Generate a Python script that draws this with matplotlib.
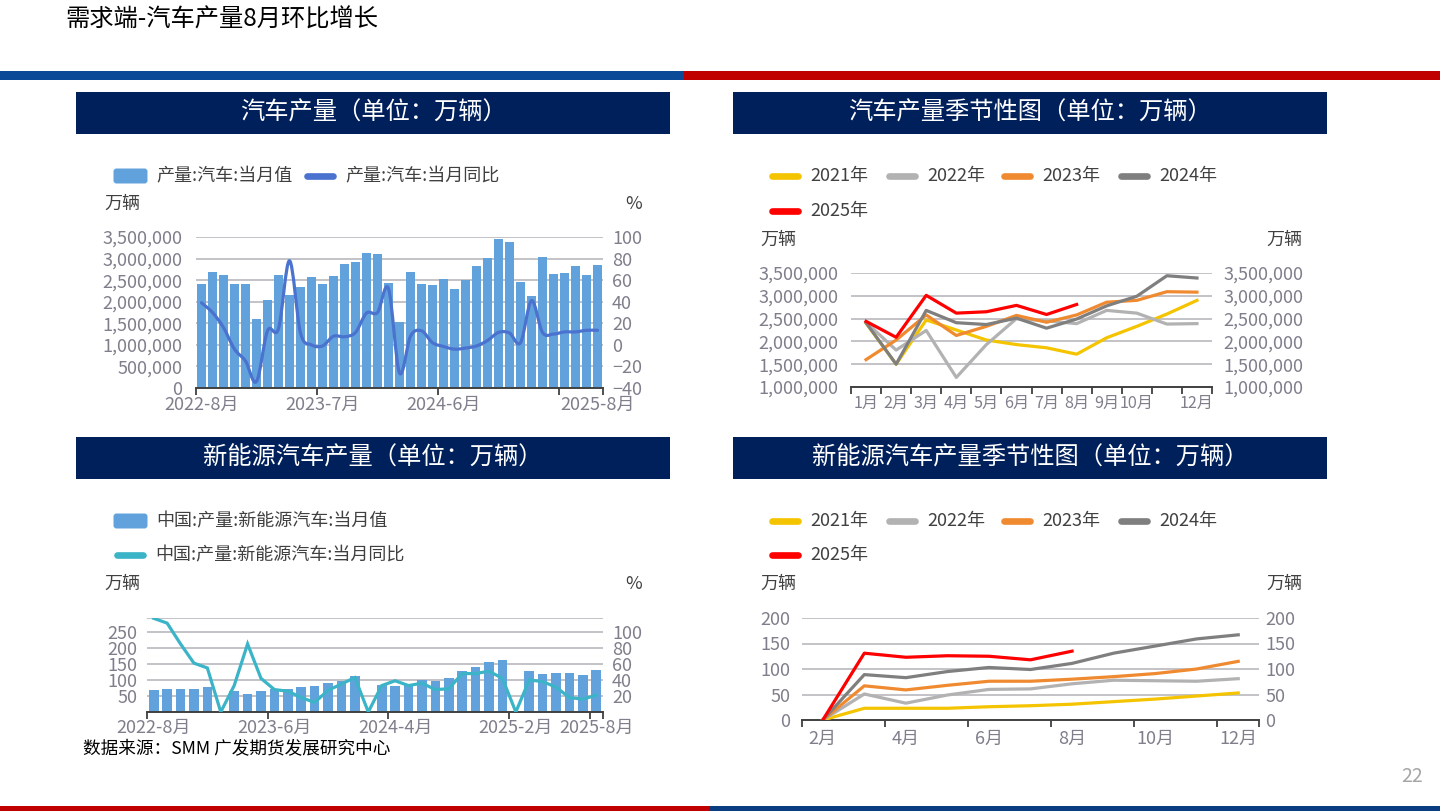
import numpy as np
import matplotlib
matplotlib.use('Agg')
import matplotlib.pyplot as plt
from matplotlib.patches import Rectangle, FancyBboxPatch, PathPatch
from matplotlib.path import Path

plt.rcParams['font.family'] = ['Noto Sans CJK SC', 'DejaVu Sans']

W, H = 1440, 811

# ---- 汽车产量 (2022-8 ~ 2025-8)
car_months = ['2022-8月', '2022-9月', '2022-10月', '2022-11月', '2022-12月',
              '2023-1月', '2023-2月', '2023-3月', '2023-4月', '2023-5月', '2023-6月',
              '2023-7月', '2023-8月', '2023-9月', '2023-10月', '2023-11月', '2023-12月',
              '2024-1月', '2024-2月', '2024-3月', '2024-4月', '2024-5月', '2024-6月',
              '2024-7月', '2024-8月', '2024-9月', '2024-10月', '2024-11月', '2024-12月',
              '2025-1月', '2025-2月', '2025-3月', '2025-4月', '2025-5月', '2025-6月',
              '2025-7月', '2025-8月']
car_output = [2410000, 2690000, 2620000, 2410000, 2410000, 1600000, 2050000, 2610000,
              2160000, 2350000, 2580000, 2420000, 2590000, 2870000, 2920000, 3120000,
              3100000, 2440000, 1520000, 2700000, 2420000, 2390000, 2520000, 2300000,
              2510000, 2820000, 3020000, 3460000, 3390000, 2450000, 2130000, 3030000,
              2640000, 2670000, 2820000, 2610000, 2840000]
car_yoy = [39, 30, 16, -4, -15, -34, 13, 15, 78, 11, 0, -1, 8, 7.5, 11.5, 29.5, 30,
           52, -26, 8, 13, 2, -1.5, -4, -3, -1, 4, 11.5, 11, 2, 41, 11.5, 10, 12, 12,
           13.5, 13.5]

# ---- 汽车产量季节性
months12 = ['1月', '2月', '3月', '4月', '5月', '6月', '7月', '8月', '9月', '10月', '11月', '12月']
car_2021 = [2400000, 1500000, 2470000, 2250000, 2030000, 1930000, 1860000, 1720000, 2080000, 2330000, 2600000, 2900000]
car_2022 = [2420000, 1810000, 2240000, 1210000, 1930000, 2500000, 2450000, 2390000, 2680000, 2620000, 2380000, 2390000]
car_2023 = [1600000, 2030000, 2580000, 2130000, 2330000, 2570000, 2420000, 2580000, 2860000, 2900000, 3090000, 3080000]
car_2024 = [2410000, 1500000, 2680000, 2410000, 2370000, 2510000, 2290000, 2490000, 2780000, 2990000, 3440000, 3390000]
car_2025 = [2440000, 2090000, 3010000, 2620000, 2650000, 2790000, 2590000, 2810000]

# ---- 新能源汽车产量 (1月不单列)
nev_months = ['2022-8月', '2022-9月', '2022-10月', '2022-11月', '2022-12月',
              '2023-2月', '2023-3月', '2023-4月', '2023-5月', '2023-6月', '2023-7月',
              '2023-8月', '2023-9月', '2023-10月', '2023-11月', '2023-12月',
              '2024-2月', '2024-3月', '2024-4月', '2024-5月', '2024-6月', '2024-7月',
              '2024-8月', '2024-9月', '2024-10月', '2024-11月', '2024-12月',
              '2025-2月', '2025-3月', '2025-4月', '2025-5月', '2025-6月', '2025-7月',
              '2025-8月']
nev_output = [68, 73, 72, 73, 77, np.nan, 64.5, 56, 64.5, 73, 72, 77, 82, 89, 97, 112,
              np.nan, 85, 80, 86, 99, 97, 107, 128, 141, 156, 163, np.nan, 128, 120,
              122, 121, 114, 131]
nev_yoy = [117, 111, 85, 61, 55, 0, 33, 85, 42, 28, 26, 18, 12, 27, 35, 43, 0, 33, 39,
           33, 36, 28, 29, 48, 48, 51, 42, 0, 40, 38, 31, 18, 16, 21]

# ---- 新能源汽车产量季节性
months11 = ['2月', '3月', '4月', '5月', '6月', '7月', '8月', '9月', '10月', '11月', '12月']
nev_2021 = [0, 23, 23, 23, 26, 28, 31, 36, 41, 47, 53]
nev_2022 = [0, 51, 33, 49, 60, 61, 71, 78, 77, 76, 81]
nev_2023 = [0, 67, 59, 68, 76, 76, 80, 85, 91, 100, 115]
nev_2024 = [0, 89, 83, 95, 103, 99, 111, 131, 145, 159, 167]
nev_2025 = [0, 131, 123, 126, 125, 118, 135]

years = ['2021年', '2022年', '2023年', '2024年', '2025年']
year_colors = ['#F5C400', '#B2B2B2', '#F08A30', '#7F7F7F', '#FF0000']

BAR_C = '#62A2DC'
GRID_C = '#BDBDC3'
TICK_C = '#7F7F8C'
AXIS_C = '#404040'
FS = 13

fig = plt.figure(figsize=(W / 100, H / 100), dpi=100)

deco = fig.add_axes([0, 0, 1, 1])
deco.set_xlim(0, W)
deco.set_ylim(H, 0)
deco.axis('off')


def px_axes(x0, y0, x1, y1):
    ax = fig.add_axes([x0 / W, 1 - y1 / H, (x1 - x0) / W, (y1 - y0) / H])
    ax.patch.set_alpha(0)
    for s in ['top', 'left', 'right']:
        ax.spines[s].set_visible(False)
    ax.spines['bottom'].set_color(AXIS_C)
    ax.spines['bottom'].set_linewidth(1.4)
    ax.set_axisbelow(True)
    return ax


def style_y(ax, pad, side='left'):
    ax.tick_params(axis='y', length=0, labelsize=FS, labelcolor=TICK_C, pad=pad)
    if side == 'right':
        ax.spines['right'].set_visible(False)
        ax.spines['left'].set_visible(False)
        ax.spines['top'].set_visible(False)
        ax.spines['bottom'].set_visible(False)


def cat_xaxis(ax, bounds, label_pos, labels, pad, size=FS):
    ax.set_xticks(bounds)
    ax.set_xticklabels([])
    ax.set_xticks(label_pos, minor=True)
    ax.set_xticklabels(labels, minor=True)
    ax.tick_params(axis='x', which='major', length=5, width=1.3, color=AXIS_C)
    ax.tick_params(axis='x', which='minor', length=0, labelsize=size,
                   labelcolor=TICK_C, pad=pad)


def grid(ax, values):
    for v in values:
        ax.axhline(v, color=GRID_C, lw=1.3, zorder=0)


def smooth_path(xs, ys):
    pts = np.column_stack([xs, ys]).astype(float)
    n = len(pts)
    verts = [pts[0]]
    codes = [Path.MOVETO]
    for i in range(n - 1):
        p0 = pts[i - 1] if i > 0 else pts[i]
        p1, p2 = pts[i], pts[i + 1]
        p3 = pts[i + 2] if i + 2 < n else pts[i + 1]
        verts += [p1 + (p2 - p0) / 6, p2 - (p3 - p1) / 6, p2]
        codes += [Path.CURVE4] * 3
    return Path(verts, codes)


def legend_bar(x, y, label):
    deco.add_patch(FancyBboxPatch((x + 2, y - 6), 31, 12,
                                  boxstyle='round,pad=1.5,rounding_size=3',
                                  fc=BAR_C, ec='none'))
    deco.text(x + 43, y, label, fontsize=FS, color='#404040', va='center')


def legend_line(x, y, color, label):
    deco.plot([x + 4, x + 30], [y, y], color=color, lw=4.8, solid_capstyle='round')
    deco.text(x + 42, y, label, fontsize=FS, color='#404040', va='center')


# ---------- page decoration
deco.text(65, 20, '需求端-汽车产量8月环比增长', fontsize=17.5, color='black', va='center')
deco.add_patch(Rectangle((0, 71), 684, 9, color='#0A4A96', lw=0))
deco.add_patch(Rectangle((684, 71), W - 684, 9, color='#C00000', lw=0))
deco.add_patch(Rectangle((0, 806), 710, 5, color='#C00000', lw=0))
deco.add_patch(Rectangle((710, 806), W - 710, 5, color='#0A3D80', lw=0))
deco.text(1412, 777, '22', fontsize=14, color='#A6A6A6', ha='center', va='center')
deco.text(83, 749, '数据来源：SMM 广发期货发展研究中心', fontsize=12.7, color='black', va='center')

headers = [(76, 92, '汽车产量（单位：万辆）'), (733, 92, '汽车产量季节性图（单位：万辆）'),
           (76, 437, '新能源汽车产量（单位：万辆）'), (733, 437, '新能源汽车产量季节性图（单位：万辆）')]
for hx, hy, ht in headers:
    deco.add_patch(Rectangle((hx, hy), 594, 42, color='#00205C', lw=0))
    deco.text(hx + 297, hy + 21, ht, fontsize=17.5, color='white', ha='center', va='center')

# ---------- panel 1
legend_bar(113, 176, '产量:汽车:当月值')
legend_line(303, 176, '#4A72CF', '产量:汽车:当月同比')
deco.text(104, 204, '万辆', fontsize=FS, color='#404040', va='center')
deco.text(634, 204, '%', fontsize=FS, color='#404040', va='center', ha='center')

ax1 = px_axes(196, 237, 603, 388)
x1 = np.arange(len(car_months))
ax1.set_xlim(-0.5, len(car_months) - 0.5)
ax1.set_ylim(0, 3500000)
grid(ax1, np.arange(500000, 3500001, 500000))
ax1.bar(x1, car_output, width=0.74, color=BAR_C, zorder=2)
ax1.set_yticks(np.arange(0, 3500001, 500000))
ax1.set_yticklabels([f'{v:,}' for v in range(0, 3500001, 500000)])
style_y(ax1, 10)
cat_xaxis(ax1, [-0.5, 10.5, 21.5, 32.5, 36.5], [0, 11, 22, 36],
          [car_months[i] for i in [0, 11, 22, 36]], 6)
ax1r = ax1.twinx()
ax1r.set_ylim(-40, 100)
ax1r.set_yticks(np.arange(-40, 101, 20))
style_y(ax1r, 6.5, 'right')
ax1r.add_patch(PathPatch(smooth_path(x1, car_yoy), fill=False, edgecolor='#4A72CF',
                         lw=2.3, capstyle='round', joinstyle='round'))

# ---------- panel 2
for i in range(4):
    legend_line([768, 885, 1000, 1117][i], 176, year_colors[i], years[i])
legend_line(768, 211, year_colors[4], years[4])
deco.text(760, 240, '万辆', fontsize=FS, color='#404040', va='center')
deco.text(1266, 240, '万辆', fontsize=FS, color='#404040', va='center')

ax2 = px_axes(851, 273, 1212, 387)
x2 = np.arange(12)
ax2.set_xlim(-0.5, 11.5)
ax2.set_ylim(1000000, 3500000)
grid(ax2, np.arange(1500000, 3500001, 500000))
for vals, c in zip([car_2021, car_2022, car_2023, car_2024, car_2025], year_colors):
    ax2.plot(x2[:len(vals)], vals, color=c, lw=2.3, solid_joinstyle='round', zorder=3)
yt2 = np.arange(1000000, 3500001, 500000)
ax2.set_yticks(yt2)
ax2.set_yticklabels([f'{v:,}' for v in yt2])
style_y(ax2, 9)
cat_xaxis(ax2, np.arange(-0.5, 12, 1), x2,
          [m if m != '11月' else '' for m in months12], 5.5, size=11.6)
ax2r = ax2.twinx()
ax2r.set_ylim(1000000, 3500000)
ax2r.set_yticks(yt2)
ax2r.set_yticklabels([f'{v:,}' for v in yt2])
style_y(ax2r, 8, 'right')

# ---------- panel 3
legend_bar(113, 521, '中国:产量:新能源汽车:当月值')
legend_line(113, 555, '#3CB4C8', '中国:产量:新能源汽车:当月同比')
deco.text(104, 584, '万辆', fontsize=FS, color='#404040', va='center')
deco.text(634, 584, '%', fontsize=FS, color='#404040', va='center', ha='center')

ax3 = px_axes(147, 618, 603, 712)
x3 = np.arange(len(nev_months))
ax3.set_xlim(-0.5, len(nev_months) - 0.5)
ax3.set_ylim(0, 293.5)
grid(ax3, [50, 100, 150, 200, 250, 293.5])
ax3.bar(x3, nev_output, width=0.72, color=BAR_C, zorder=2)
ax3.set_yticks([50, 100, 150, 200, 250])
style_y(ax3, 7)
cat_xaxis(ax3, [-0.5, 8.5, 17.5, 26.5, 32.5, 33.5], [0, 9, 18, 27, 33],
          [nev_months[i] for i in [0, 9, 18, 27, 33]], 5)
ax3r = ax3.twinx()
ax3r.set_ylim(0, 293.5 / 2.5)
ax3r.set_yticks([20, 40, 60, 80, 100])
style_y(ax3r, 6.5, 'right')
ax3r.plot(x3, nev_yoy, color='#3CB4C8', lw=2.3, solid_joinstyle='miter')

# ---------- panel 4
for i in range(4):
    legend_line([768, 885, 1000, 1117][i], 521, year_colors[i], years[i])
legend_line(768, 555, year_colors[4], years[4])
deco.text(760, 584, '万辆', fontsize=FS, color='#404040', va='center')
deco.text(1266, 584, '万辆', fontsize=FS, color='#404040', va='center')

ax4 = px_axes(802, 618, 1259, 720)
x4 = np.arange(11)
ax4.set_xlim(-0.5, 10.5)
ax4.set_ylim(0, 200)
grid(ax4, [50, 100, 150, 200])
for vals, c in zip([nev_2021, nev_2022, nev_2023, nev_2024, nev_2025], year_colors):
    ax4.plot(x4[:len(vals)], vals, color=c, lw=2.3, solid_joinstyle='round', zorder=3)
ax4.set_yticks([0, 50, 100, 150, 200])
style_y(ax4, 8.5)
cat_xaxis(ax4, [-0.5, 1.5, 3.5, 5.5, 7.5, 9.5, 10.5], [0, 2, 4, 6, 8, 10],
          [months11[i] for i in [0, 2, 4, 6, 8, 10]], 7)
ax4r = ax4.twinx()
ax4r.set_ylim(0, 200)
ax4r.set_yticks([0, 50, 100, 150, 200])
style_y(ax4r, 4.5, 'right')

fig.savefig('out.png', dpi=100)
